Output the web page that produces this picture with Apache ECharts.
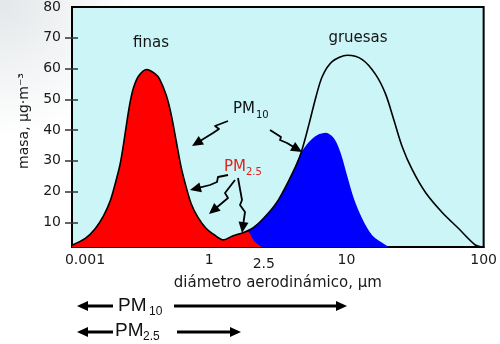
<!DOCTYPE html>
<html><head><meta charset="utf-8">
<script src="https://cdn.jsdelivr.net/npm/echarts@6/dist/echarts.min.js"></script>
<style>html,body{margin:0;padding:0;background:#fff}#c{width:500px;height:344px}</style>
</head><body><div id="c"></div>
<script>
// ---- tick values / labels ----
const xTicks = [0.1, 1, 2.5, 10, 100];
const xTickLabels = ['0.001', '1', '2.5', '10', '100'];
const yTicks = [10, 20, 30, 40, 50, 60, 70, 80];
const yInnerTicks = [10, 20, 30, 40, 50, 60, 70];

// ---- curves: [diameter µm, mass µg/m3] ----
const finas = [[0.1,2.6],[0.125,4.8],[0.148,8.0],[0.17,12.2],[0.19,17.0],[0.206,22.4],[0.224,28.8],
  [0.237,35.2],[0.251,42.6],[0.265,49.0],[0.281,53.8],[0.305,57.5],[0.35,59.7],[0.40,58.4],
  [0.436,56.5],[0.487,51.2],[0.53,44.8],[0.576,36.2],[0.626,27.7],[0.681,21.3],[0.74,16.0],
  [0.826,11.7],[0.951,8.0],[1.093,5.9],[1.27,4.3]];
const ascenso = [[1.27,4.3],[1.48,5.6],[1.8,6.8],[2.13,8.5],[2.67,12.8],[3.21,17.5],[4.05,26.1],[4.66,32.5]];
const gruesasTotal = [[4.66,32.5],[5.35,42.1],[5.98,50.6],[6.68,57.5],[7.9,62.3],[10.15,64.3],[13.05,62.9],
  [16.3,58.1],[19.3,51.7],[22.2,43.2],[25.5,34.6],[30.1,27.2],[37.7,19.7],[49.7,13.3],[65.7,8.0],
  [86.9,2.65],[97,2.0]];
const gruesasPM10 = [[4.66,32.5],[5.35,36.2],[6.15,38.4],[7.07,39.1],[8.13,37.3],[9.09,32.5],[10.15,25.0],
  [11.36,17.6],[13.05,11.2],[15.4,5.85],[19.3,2.65],[20.4,2.0]];
const inicioPM10 = [[0.85,2.0]];
const colaPM25 = [[1.48,5.6],[1.8,6.8],[1.9,7.0],[2.13,3.9],[2.42,2.0]];

const blueData = inicioPM10.concat(ascenso, gruesasPM10.slice(1));
const redData = finas.concat(colaPM25);
const blackData = finas.concat(ascenso.slice(1), gruesasTotal.slice(1));

const FONT = 'DejaVu Sans';
const SMOOTH = 0.3;
const chart = echarts.init(document.getElementById('c'), null, {renderer: 'canvas'});

// ---- annotation helpers ----
function arrow(pts, headLen, headW, width) {
  const n = pts.length, tip = pts[n - 1], prev = pts[n - 2];
  const dx = tip[0] - prev[0], dy = tip[1] - prev[1], L = Math.hypot(dx, dy);
  const ux = dx / L, uy = dy / L, px = -uy, py = ux;
  const bx = tip[0] - ux * headLen, by = tip[1] - uy * headLen;
  const linePts = pts.slice(0, n - 1).concat([[tip[0] - ux * headLen * 0.6, tip[1] - uy * headLen * 0.6]]);
  return [
    {type: 'polyline', shape: {points: linePts}, style: {stroke: '#000', lineWidth: width, fill: null, lineJoin: 'round'}, z: 100},
    {type: 'polygon', shape: {points: [tip, [bx + px * headW, by + py * headW], [bx - px * headW, by - py * headW]]},
      style: {fill: '#000'}, z: 100}
  ];
}
function txt(x, y, s, size, color, family, align) {
  return {type: 'text', x: x, y: y, z: 100,
    style: {text: s, fontSize: size, fontFamily: family || FONT, fill: color || '#111',
      align: align || 'left', verticalAlign: 'middle', textAlign: align || 'left', textVerticalAlign: 'middle'}};
}

const graphics = [].concat(
  txt(151, 43, 'finas', 15, '#141414', FONT, 'center'),
  txt(358, 38, 'gruesas', 15, '#141414', FONT, 'center'),
  txt(233, 109, 'PM', 15, '#111'),
  txt(256, 115, '10', 10, '#111'),
  txt(224, 167, 'PM', 15, '#e3201b'),
  txt(246, 172, '2.5', 10, '#e3201b'),
  arrow([[228,121],[215,126],[219,129],[213,133],[192,146]], 11, 5, 1.8),
  arrow([[270,130],[281,137],[280,140],[287,143],[302,152]], 11, 5, 1.8),
  arrow([[228,175],[218,177],[217,182],[210,185],[190,190]], 11, 5, 1.8),
  arrow([[235,180],[225,193],[228,198],[222,203],[209,214]], 11, 5, 1.8),
  arrow([[238,178],[242,200],[240,205],[245,212],[242,233]], 11, 5, 1.8),
  // bottom range arrows
  arrow([[113,306],[77,306]], 11, 5, 3),
  arrow([[174,306],[347,306]], 11, 5, 3),
  txt(118, 306, 'PM', 19, '#111', 'Liberation Sans'),
  txt(149, 312, '10', 12, '#111', 'Liberation Sans'),
  arrow([[113,332],[77,332]], 11, 5, 3),
  arrow([[177,332],[241,332]], 11, 5, 3),
  txt(115, 331, 'PM', 19, '#111', 'Liberation Sans'),
  txt(143, 337, '2.5', 12, '#111', 'Liberation Sans')
);

function xLabel(v) {
  let best = 0, bd = Infinity;
  xTicks.forEach((t, i) => { const d = Math.abs(Math.log10(t) - Math.log10(v)); if (d < bd) { bd = d; best = i; } });
  const s = xTickLabels[best];
  if (best === 0) return '{s|' + s + '}';
  if (s === '2.5') return '{d|' + s + '}';
  return s;
}

const option = {
  animation: false,
  backgroundColor: {type: 'radial', x: 0, y: 0, r: 0.4,
    colorStops: [{offset: 0, color: '#e3e7e9'}, {offset: 1, color: '#ffffff'}]},
  grid: {left: 72, right: 15, top: 4, bottom: 97, show: true, backgroundColor: '#cbf5f7',
    borderColor: '#000', borderWidth: 2, containLabel: false},
  xAxis: {
    type: 'log', logBase: 10, min: 0.1, max: 100,
    axisLine: {show: true, onZero: false, lineStyle: {color: '#000', width: 2}},
    axisTick: {show: false}, splitLine: {show: false}, minorTick: {show: false},
    axisLabel: {customValues: xTicks, formatter: xLabel, margin: 6, fontSize: 14, color: '#1a1a1a', fontFamily: FONT,
      showMinLabel: true, showMaxLabel: true,
      rich: {s: {fontSize: 14, fontFamily: FONT, color: '#1a1a1a', padding: [0, 0, 0, 26]},
             d: {fontSize: 14, fontFamily: FONT, color: '#1a1a1a', padding: [4, 0, 0, 0]}}},
    name: 'diámetro aerodinámico, μm', nameLocation: 'middle', nameGap: 27,
    nameTextStyle: {fontSize: 15, fontFamily: FONT, color: '#1a1a1a'}
  },
  yAxis: [{
    type: 'value', min: 2, max: 80,
    axisLine: {show: true, lineStyle: {color: '#000', width: 2}},
    axisTick: {show: true, customValues: yInnerTicks, length: 7, lineStyle: {color: '#333', width: 1.5}},
    axisLabel: {customValues: yTicks, margin: 11, fontSize: 14, color: '#1a1a1a', fontFamily: FONT},
    splitLine: {show: false},
    name: 'masa, μg·m⁻³', nameLocation: 'middle', nameGap: 41,
    nameTextStyle: {fontSize: 14, fontFamily: FONT, color: '#1a1a1a', padding: [0, 0, 0, 12]}
  }, {
    type: 'value', min: 2, max: 80, position: 'left', offset: 0,
    axisLine: {show: false},
    axisTick: {show: true, inside: true, customValues: yInnerTicks, length: 6, lineStyle: {color: '#333', width: 1.5}},
    axisLabel: {show: false}, splitLine: {show: false}
  }],
  series: [
    {type: 'line', name: 'PM10 gruesas', data: blueData, smooth: SMOOTH, showSymbol: false, symbol: 'none',
      lineStyle: {width: 0, opacity: 0}, areaStyle: {color: '#0000ff', opacity: 1}, z: 2},
    {type: 'line', name: 'PM2.5', data: redData, smooth: SMOOTH, showSymbol: false, symbol: 'none',
      lineStyle: {width: 0, opacity: 0}, areaStyle: {color: '#ff0000', opacity: 1}, z: 3},
    {type: 'line', name: 'total', data: blackData, smooth: SMOOTH, showSymbol: false, symbol: 'none',
      lineStyle: {color: '#000', width: 1.6}, z: 4}
  ],
  graphic: graphics
};
chart.setOption(option);
</script></body></html>
